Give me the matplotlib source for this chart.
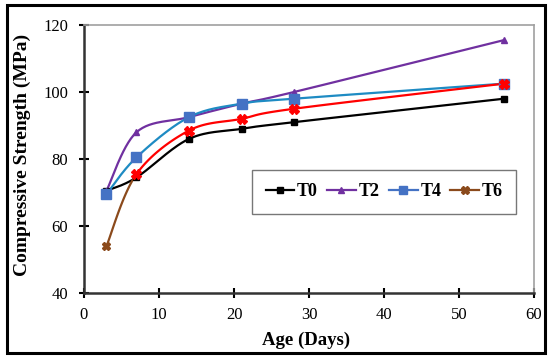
import numpy as np
import matplotlib
matplotlib.use("Agg")
import matplotlib.pyplot as plt
from matplotlib.patches import Rectangle
from matplotlib.lines import Line2D

ages = [3, 7, 14, 21, 28, 56]
t0 = [70.5, 74.5, 86.0, 89.0, 91.0, 98.0]
t2 = [70.5, 88.0, 92.5, 96.5, 100.0, 115.5]
t4 = [69.5, 80.5, 92.5, 96.5, 98.0, 102.5]
t6 = [54.0, 75.5, 88.5, 92.0, 95.0, 102.5]
labels = ["T0", "T2", "T4", "T6"]
xticks = [0, 10, 20, 30, 40, 50, 60]
yticks = [40, 60, 80, 100, 120]

plt.rcParams['font.family'] = ['Liberation Serif', 'DejaVu Serif']


def smooth(x, y, n=30):
    """Excel-like smoothed line (Bezier through points)."""
    x = np.asarray(x, float)
    y = np.asarray(y, float)
    px, py = [], []
    m = len(x)
    for i in range(m - 1):
        p0 = np.array([x[max(i - 1, 0)], y[max(i - 1, 0)]])
        p1 = np.array([x[i], y[i]])
        p2 = np.array([x[i + 1], y[i + 1]])
        p3 = np.array([x[min(i + 2, m - 1)], y[min(i + 2, m - 1)]])
        c1 = p1 + (p2 - p0) / 6.0
        c2 = p2 - (p3 - p1) / 6.0
        t = np.linspace(0, 1, n)[:, None]
        pts = ((1 - t) ** 3) * p1 + 3 * ((1 - t) ** 2) * t * c1 + 3 * (1 - t) * t ** 2 * c2 + t ** 3 * p2
        if i > 0:
            pts = pts[1:]
        px.extend(pts[:, 0])
        py.extend(pts[:, 1])
    return np.array(px), np.array(py)


fig = plt.figure(figsize=(5.5, 3.61), dpi=100)
ax = fig.add_axes([0.1527, 0.1884, 0.8183, 0.7423])

c0 = "black"
c2 = "#7030A0"
c4line = "#1E8BC3"
c4mark = "#4472C4"
c6 = "#FF0000"
c6b = "#8B4A1C"

sx, sy = smooth(ages, t0)
ax.plot(sx, sy, color=c0, lw=1.6, zorder=3)
ax.plot(ages, t0, ls="none", marker="s", ms=5, color=c0, zorder=4)

sx, sy = smooth(ages, t2)
ax.plot(sx, sy, color=c2, lw=1.6, zorder=3)
ax.plot(ages, t2, ls="none", marker="^", ms=5, color=c2, zorder=4)

sx, sy = smooth(ages, t4)
ax.plot(sx, sy, color=c4line, lw=1.6, zorder=3)
ax.plot(ages, t4, ls="none", marker="s", ms=7.5, color=c4mark, zorder=4)

sx, sy = smooth(ages, t6)
mask1 = sx <= ages[1]
ax.plot(sx[mask1], sy[mask1], color=c6b, lw=1.6, zorder=3)
ax.plot(sx[~mask1 | (sx == ages[1])], sy[~mask1 | (sx == ages[1])], color=c6, lw=1.6, zorder=3)
ax.plot(ages[:1], t6[:1], ls="none", marker="X", ms=6, color=c6b, zorder=4)
ax.plot(ages[1:], t6[1:], ls="none", marker="X", ms=7, color=c6, zorder=4)

ax.set_xlim(0, 60)
ax.set_ylim(40, 120)
ax.set_xticks(xticks)
ax.set_yticks(yticks)
ax.tick_params(direction="inout", length=7, width=1.5, labelsize=12, colors="black")
ax.tick_params(axis="x", pad=6.5)
ax.tick_params(axis="y", pad=8)
for s in ["left", "bottom"]:
    ax.spines[s].set_linewidth(1.8)
    ax.spines[s].set_color("#333333")
for s in ["top", "right"]:
    ax.spines[s].set_linewidth(1.2)
    ax.spines[s].set_color("#A0A0A0")

ax.set_xlabel("Age (Days)", fontsize=13.5, fontweight="bold")
ax.set_ylabel("Compressive Strength (MPa)", fontsize=14, fontweight="bold")
ax.xaxis.set_label_coords(0.493, -0.145)
ax.yaxis.set_label_coords(-0.117, 0.515)

handles = [
    Line2D([], [], color=c0, lw=1.6, marker="s", ms=5),
    Line2D([], [], color=c2, lw=1.6, marker="^", ms=5),
    Line2D([], [], color=c4mark, lw=1.6, marker="s", ms=6),
    Line2D([], [], color=c6b, lw=1.6, marker="X", ms=6),
]
leg = ax.legend(handles, labels, ncol=4, loc="center", bbox_to_anchor=(0.667, 0.377),
                prop={"family": "Liberation Serif", "weight": "bold", "size": 13},
                frameon=True, fancybox=False, edgecolor="#555555", handlelength=1.6,
                handletextpad=0.15, columnspacing=0.5, borderpad=0.75)
leg.get_frame().set_linewidth(1.0)

fig.patches.append(Rectangle((0.0127, 0.022), 0.978, 0.964, transform=fig.transFigure,
                             fill=False, edgecolor="black", lw=2.2))

fig.savefig("out.png", dpi=100)
